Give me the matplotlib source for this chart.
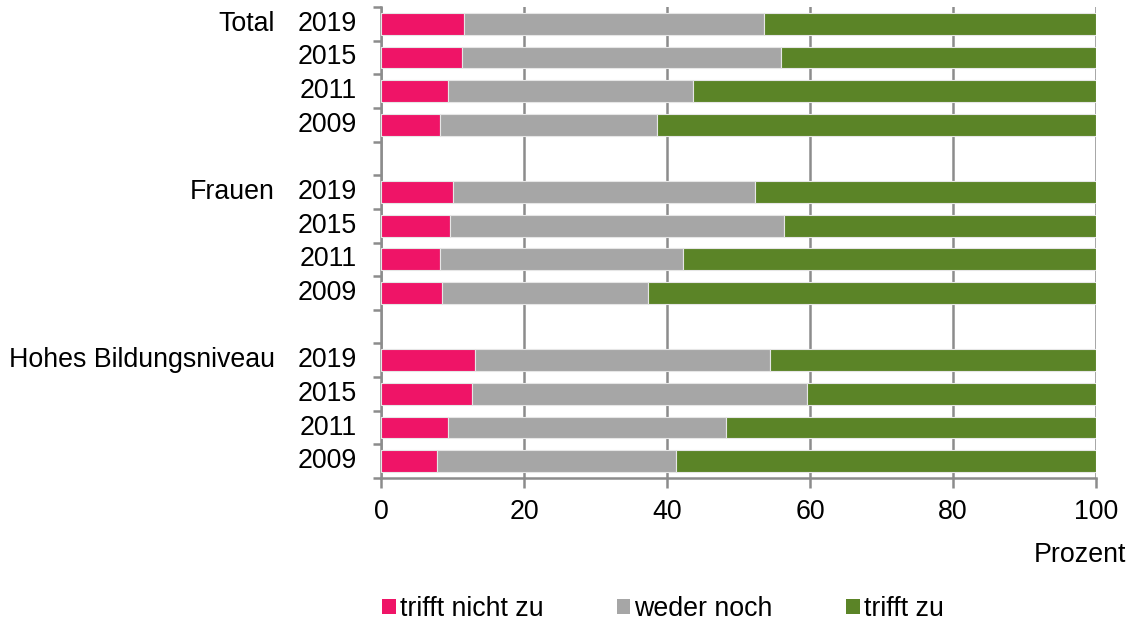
import matplotlib
matplotlib.use("Agg")
import matplotlib.pyplot as plt
from matplotlib.patches import Patch
from matplotlib.transforms import offset_copy
import numpy as np

plt.rcParams['font.family'] = ['Liberation Sans', 'DejaVu Sans']

groups = ["Total", "Frauen", "Hohes Bildungsniveau"]
years = ["2019", "2015", "2011", "2009"]
series_names = ["trifft nicht zu", "weder noch", "trifft zu"]

# per group, years in order 2019, 2015, 2011, 2009
trifft_nicht_zu = [11.6, 11.3, 9.4, 8.2,
                   10.0, 9.6, 8.3, 8.5,
                   13.1, 12.7, 9.4, 7.8]
weder_noch = [42.0, 44.6, 34.2, 30.4,
              42.3, 46.7, 34.0, 28.9,
              41.3, 46.9, 38.9, 33.5]
trifft_zu = [46.4, 44.1, 56.4, 61.4,
             47.7, 43.7, 57.7, 62.6,
             45.6, 40.4, 51.7, 58.7]

colors = ["#EF1467", "#A6A6A6", "#5B8427"]
FS = 19.3

fig = plt.figure(figsize=(11.3, 6.27), dpi=100)
ax = fig.add_axes([381/1130, 1-478/627, (1096-381)/1130, (478-7)/627])

pos = []
for g in range(len(groups)):
    for y in range(len(years)):
        pos.append(g * (len(years) + 1) + y)
pos = np.array(pos)

left = np.zeros(len(pos))
for vals, c in zip([trifft_nicht_zu, weder_noch, trifft_zu], colors):
    v = np.array(vals)
    ax.barh(pos, v, left=left, height=0.65, color=c, edgecolor="#E6E6E6",
            linewidth=0.8, zorder=3)
    left += v

nslots = len(groups) * (len(years) + 1) - 1
ax.set_ylim(nslots - 0.5, -0.5)
ax.set_xlim(0, 100)
ax.set_xticks([0, 20, 40, 60, 80, 100])
ax.set_yticks(np.arange(-0.5, nslots, 1.0))
ax.set_yticklabels([])
ax.grid(axis="x", color="#8C8C8C", linewidth=1.8, zorder=0)
for s in ["top", "right"]:
    ax.spines[s].set_visible(False)
for s in ["left", "bottom"]:
    ax.spines[s].set_color("#8C8C8C")
    ax.spines[s].set_linewidth(1.8)
ax.tick_params(axis="y", length=6, width=1.8, color="#8C8C8C")
ax.tick_params(axis="x", length=7, width=1.8, color="#8C8C8C", labelsize=FS, pad=8)

trans = ax.get_yaxis_transform()
tr_years = offset_copy(trans, fig=fig, x=-24, y=0, units="dots")
tr_groups = offset_copy(trans, fig=fig, x=-106, y=0, units="dots")
for i, p in enumerate(pos):
    ax.text(0, p, years[i % len(years)], transform=tr_years, ha="right",
            va="center", fontsize=FS)
for g, name in enumerate(groups):
    ax.text(0, g * (len(years) + 1), name, transform=tr_groups, ha="right",
            va="center", fontsize=FS)

fig.text(1126/1130, 1-555/627, "Prozent", ha="right", va="center", fontsize=FS)

handles = [Patch(facecolor=c, edgecolor="none") for c in colors]
fig.legend(handles, series_names, loc="center", bbox_to_anchor=(663/1130, 1-609/627),
           ncol=3, frameon=False, fontsize=FS, handlelength=0.5, handleheight=0.5,
           handletextpad=0.15, columnspacing=2.75)

fig.savefig("out.png", dpi=100)
